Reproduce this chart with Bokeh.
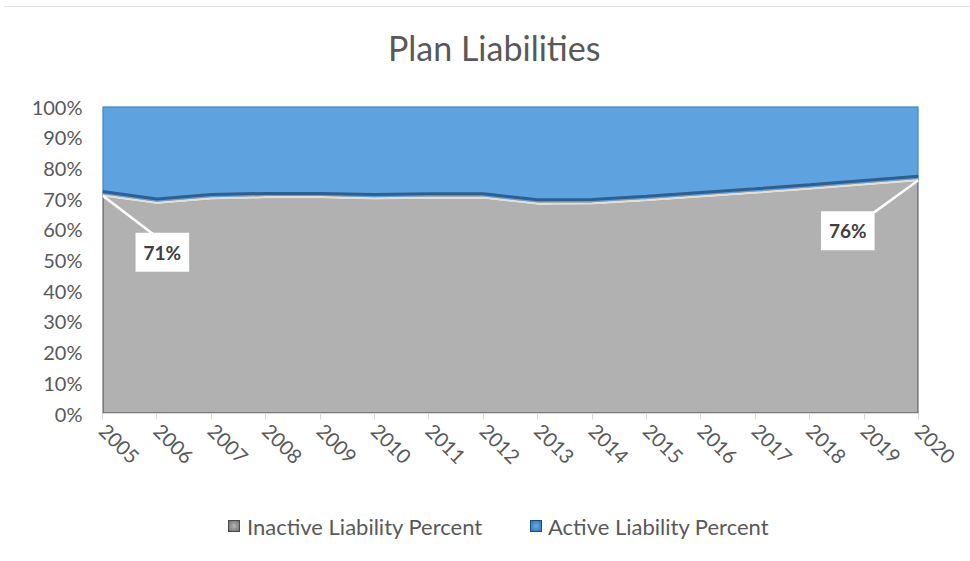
from bokeh.plotting import figure
from bokeh.models import (ColumnDataSource, Label, Arrow, Div,
                          FixedTicker, CustomJSTickFormatter, Range1d)
from bokeh.layouts import column
from bokeh.transform import dodge
from bokeh.embed import file_html
from bokeh.resources import INLINE

# ---- data ----
years = [2005, 2006, 2007, 2008, 2009, 2010, 2011, 2012,
         2013, 2014, 2015, 2016, 2017, 2018, 2019, 2020]
inactive_pct = [71.0, 68.6, 70.0, 70.4, 70.4, 70.0, 70.3, 70.3,
                68.3, 68.4, 69.5, 70.7, 71.9, 73.2, 74.6, 76.0]
active_pct = [100 - v for v in inactive_pct]
y_ticks = [0, 10, 20, 30, 40, 50, 60, 70, 80, 90, 100]
title_text = "Plan Liabilities"
series_names = ["Inactive Liability Percent", "Active Liability Percent"]

FONT = "Lato"
GREY = "#b1b1b1"
BLUE = "#5fa2e0"
TXT = "#595959"

top = [a + b for a, b in zip(inactive_pct, active_pct)]
zeros = [0] * len(years)

p = figure(width=970, height=430, output_backend="svg", toolbar_location=None,
           x_range=Range1d(years[0], years[-1]), y_range=Range1d(0, 100),
           min_border_left=102, min_border_right=52, min_border_top=36,
           min_border_bottom=87)
p.title = None
p.background_fill_color = "white"
p.border_fill_color = "white"
p.outline_line_color = None
p.grid.visible = False

# polygons from data
gx = years + years[::-1]
grey_y = inactive_pct + zeros[::-1]
blue_y = top + inactive_pct[::-1]

r_blue = p.patch(gx, blue_y, fill_color=BLUE, line_color="#3f7fc0", line_width=2)
r_grey = p.patch(gx, grey_y, fill_color=GREY, line_color="#6a6a6a", line_width=2.5)

src = ColumnDataSource(dict(x=years, v=inactive_pct))
p.line("x", "v", source=src, line_color="#e2ddd6", line_width=2.5)
p.line("x", dodge("v", 1.3), source=src, line_color="#2f5f8f", line_width=3)

# axes
p.yaxis.ticker = FixedTicker(ticks=y_ticks)
p.yaxis.formatter = CustomJSTickFormatter(code="return tick + '%';")
p.yaxis.axis_line_color = None
p.yaxis.major_tick_line_color = None
p.yaxis.minor_tick_line_color = None
p.yaxis.major_label_text_font = FONT
p.yaxis.major_label_text_font_size = "20px"
p.yaxis.major_label_text_color = TXT
p.yaxis.major_label_standoff = 14

p.xaxis.ticker = FixedTicker(ticks=years)
p.xaxis.axis_line_color = "#d9d9d9"
p.xaxis.major_tick_line_color = "#d9d9d9"
p.xaxis.major_tick_out = 6
p.xaxis.major_tick_in = 0
p.xaxis.minor_tick_line_color = None
p.xaxis.major_label_orientation = -0.785
p.xaxis.major_label_text_font = FONT
p.xaxis.major_label_text_font_size = "20px"
p.xaxis.major_label_text_color = TXT
p.xaxis.major_label_standoff = 8

# data labels with leaders
i0, i1 = 0, len(years) - 1
for idx, dx, dy, lx, ly in [(i0, 1.0, -13.5, 1.1, -5), (i1, -1.05, -13.5, -1.3, -3)]:
    xv, yv = years[idx], inactive_pct[idx]
    p.add_layout(Arrow(end=None, x_start=xv, y_start=yv, x_end=xv + dx, y_end=yv + dy,
                       line_color="white", line_width=2.5))
    p.add_layout(Label(x=xv + lx, y=yv + dy + ly, text=f"{round(yv)}%",
                       text_align="center", text_baseline="middle",
                       text_font=FONT, text_font_size="19px", text_font_style="bold",
                       text_color="#404040", background_fill_color="white",
                       padding=8))

# title (HTML row above the chart)
title_html = (
    f'<div style="position:relative;width:970px;height:70px;font-family:Lato;'
    f'font-size:34px;color:{TXT};">'
    f'<div style="position:absolute;left:4px;top:6px;width:966px;height:0;'
    f'border-top:1px solid #e3e3e3;"></div>'
    f'<span style="position:absolute;left:388px;top:28px;line-height:40px;white-space:nowrap;">'
    f'{title_text}</span></div>')
title_div = Div(text=title_html, width=970, height=70, margin=0)

# legend (HTML row below the chart)
def swatch(left, c1, c2, edge):
    return (f'<span style="position:absolute;left:{left}px;top:20px;width:12px;height:12px;'
            f'box-sizing:border-box;border:1px solid {edge};'
            f'background:radial-gradient(circle,{c1},{c2});"></span>')

def label(left, text):
    return (f'<span style="position:absolute;left:{left}px;top:12px;line-height:30px;'
            f'white-space:nowrap;">{text}</span>')

legend_html = (
    f'<div style="position:relative;width:970px;height:61px;font-family:Lato;'
    f'font-size:22px;color:{TXT};">'
    + swatch(228, "#b5b5b5", "#6e6e6e", "#4a4a4a") + label(247, series_names[0])
    + swatch(530, "#6aaee8", "#2e6fb3", "#1f4e79") + label(548, series_names[1])
    + '</div>')
legend_div = Div(text=legend_html, width=970, height=61, margin=0)

layout = column(title_div, p, legend_div, spacing=0)
open("out.html", "w").write(file_html(layout, INLINE))
